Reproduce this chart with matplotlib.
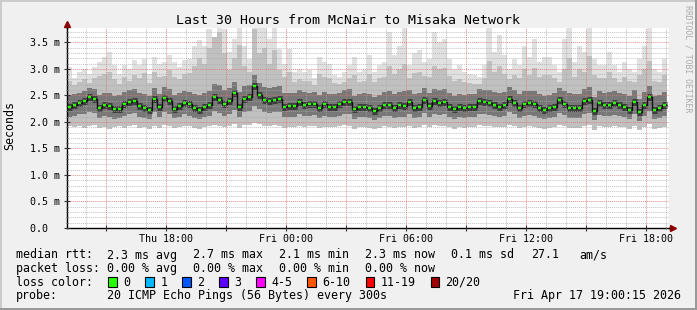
import numpy as np
import pandas as pd
import matplotlib
matplotlib.use("Agg")
import matplotlib.pyplot as plt
import matplotlib.dates as mdates
from matplotlib.ticker import MultipleLocator, FuncFormatter
from matplotlib.patches import Rectangle

W, H = 697, 310
plt.rcParams['font.family'] = ['DejaVu Sans Mono']

# smokeping rtt, 15 min steps from Thu 13:00 to Fri 19:00, values in ms
median = [2.28, 2.32, 2.35, 2.39, 2.47, 2.44, 2.27, 2.32, 2.30, 2.24, 2.25, 2.33, 2.38, 2.40, 2.30, 2.27, 2.22, 2.44, 2.28, 2.45, 2.40, 2.25, 2.30, 2.36,
          2.34, 2.26, 2.22, 2.28, 2.31, 2.47, 2.41, 2.34, 2.39, 2.54, 2.29, 2.43, 2.46, 2.68, 2.51, 2.41, 2.39, 2.42, 2.44, 2.29, 2.30, 2.30, 2.37, 2.31,
          2.33, 2.34, 2.26, 2.33, 2.28, 2.28, 2.33, 2.37, 2.38, 2.24, 2.28, 2.29, 2.26, 2.21, 2.26, 2.32, 2.32, 2.26, 2.31, 2.30, 2.37, 2.26, 2.29, 2.41,
          2.30, 2.39, 2.35, 2.37, 2.29, 2.24, 2.29, 2.27, 2.29, 2.29, 2.39, 2.37, 2.35, 2.32, 2.29, 2.32, 2.43, 2.36, 2.26, 2.33, 2.35, 2.33, 2.27, 2.22,
          2.26, 2.29, 2.41, 2.34, 2.27, 2.27, 2.26, 2.39, 2.41, 2.21, 2.35, 2.31, 2.32, 2.35, 2.32, 2.29, 2.22, 2.37, 2.18, 2.32, 2.46, 2.22, 2.26, 2.32]
hi = [3.04, 2.82, 2.94, 3.00, 2.91, 3.04, 3.13, 3.22, 3.32, 3.07, 2.91, 3.07, 3.00, 3.16, 3.07, 3.19, 2.91, 3.22, 3.10, 3.13, 3.26, 3.13, 3.04, 3.16,
      3.19, 3.44, 3.54, 3.44, 3.76, 3.57, 3.79, 3.76, 3.32, 3.57, 3.82, 3.44, 3.19, 3.82, 3.82, 3.82, 3.57, 3.82, 3.38, 3.10, 3.38, 2.94, 3.00, 2.94,
      2.98, 2.82, 3.22, 3.13, 3.10, 2.88, 2.85, 2.94, 3.07, 3.22, 2.94, 2.98, 3.26, 2.94, 3.07, 3.13, 3.69, 3.26, 3.44, 3.82, 3.07, 3.29, 3.35, 3.13,
      3.19, 3.69, 3.51, 3.57, 3.19, 3.00, 3.07, 2.94, 2.91, 2.88, 2.85, 3.07, 3.82, 3.32, 3.63, 3.26, 3.00, 3.19, 3.07, 3.44, 3.22, 3.57, 3.13, 3.22,
      3.22, 3.07, 2.94, 3.57, 3.82, 3.13, 3.44, 3.32, 3.82, 3.19, 3.07, 3.07, 3.32, 3.07, 2.94, 3.13, 3.00, 2.94, 3.19, 3.44, 3.82, 3.00, 2.94, 3.19]
p90 = [2.78, 2.70, 2.75, 2.80, 2.74, 2.82, 2.86, 2.90, 2.95, 2.80, 2.72, 2.84, 2.78, 2.88, 2.82, 2.92, 2.74, 2.95, 2.85, 2.86, 2.98, 2.84, 2.80, 2.90,
       2.92, 3.05, 3.20, 3.10, 3.40, 3.60, 3.70, 3.30, 2.98, 3.20, 3.45, 3.05, 2.95, 3.75, 3.30, 3.40, 3.10, 3.35, 2.98, 2.85, 2.95, 2.75, 2.80, 2.78,
       2.78, 2.70, 2.90, 2.84, 2.82, 2.74, 2.72, 2.76, 2.82, 2.88, 2.76, 2.78, 2.90, 2.76, 2.82, 2.85, 3.05, 2.90, 3.00, 3.10, 2.82, 2.92, 2.95, 2.86,
       2.85, 3.05, 3.00, 3.02, 2.86, 2.78, 2.80, 2.75, 2.74, 2.72, 2.72, 2.82, 3.15, 2.95, 3.05, 2.90, 2.80, 2.88, 2.82, 3.00, 2.88, 3.02, 2.85, 2.88,
       2.88, 2.82, 2.76, 3.00, 3.20, 2.85, 3.00, 2.95, 3.25, 2.88, 2.82, 2.82, 2.95, 2.82, 2.76, 2.85, 2.78, 2.76, 2.88, 3.00, 3.15, 2.78, 2.76, 2.88]
q3 = [2.50, 2.52, 2.55, 2.58, 2.64, 2.62, 2.50, 2.55, 2.54, 2.48, 2.50, 2.56, 2.60, 2.62, 2.54, 2.52, 2.48, 2.64, 2.52, 2.66, 2.62, 2.50, 2.54, 2.58,
      2.56, 2.52, 2.50, 2.54, 2.58, 2.72, 2.70, 2.60, 2.64, 2.76, 2.56, 2.68, 2.70, 2.88, 2.74, 2.66, 2.64, 2.66, 2.68, 2.54, 2.55, 2.54, 2.60, 2.56,
      2.55, 2.56, 2.50, 2.56, 2.52, 2.52, 2.55, 2.60, 2.62, 2.48, 2.52, 2.54, 2.52, 2.46, 2.50, 2.56, 2.58, 2.52, 2.56, 2.58, 2.60, 2.52, 2.55, 2.64,
      2.54, 2.62, 2.60, 2.62, 2.54, 2.48, 2.52, 2.50, 2.52, 2.52, 2.62, 2.60, 2.60, 2.56, 2.54, 2.56, 2.66, 2.60, 2.52, 2.58, 2.58, 2.58, 2.52, 2.48,
      2.50, 2.54, 2.64, 2.58, 2.54, 2.52, 2.52, 2.62, 2.66, 2.46, 2.58, 2.55, 2.56, 2.58, 2.55, 2.52, 2.48, 2.60, 2.44, 2.56, 2.68, 2.48, 2.50, 2.56]
q1 = [2.10, 2.12, 2.14, 2.15, 2.18, 2.16, 2.08, 2.12, 2.10, 2.06, 2.08, 2.12, 2.14, 2.16, 2.10, 2.08, 2.05, 2.18, 2.10, 2.18, 2.15, 2.08, 2.10, 2.14,
      2.12, 2.08, 2.05, 2.10, 2.12, 2.20, 2.16, 2.12, 2.15, 2.22, 2.10, 2.18, 2.20, 2.30, 2.24, 2.18, 2.16, 2.18, 2.18, 2.10, 2.10, 2.10, 2.14, 2.12,
      2.12, 2.13, 2.08, 2.12, 2.10, 2.10, 2.12, 2.15, 2.15, 2.06, 2.10, 2.10, 2.08, 2.04, 2.08, 2.12, 2.12, 2.08, 2.10, 2.10, 2.14, 2.08, 2.10, 2.16,
      2.10, 2.15, 2.13, 2.14, 2.10, 2.06, 2.10, 2.08, 2.10, 2.10, 2.15, 2.14, 2.13, 2.12, 2.10, 2.12, 2.18, 2.14, 2.08, 2.12, 2.13, 2.12, 2.08, 2.05,
      2.08, 2.10, 2.16, 2.13, 2.08, 2.08, 2.08, 2.15, 2.16, 2.04, 2.13, 2.11, 2.12, 2.13, 2.12, 2.10, 2.05, 2.14, 2.02, 2.12, 2.20, 2.05, 2.08, 2.12]
lo = [1.92, 1.90, 1.93, 1.88, 1.92, 1.95, 1.89, 1.91, 1.87, 1.90, 1.93, 1.89, 1.92, 1.94, 1.88, 1.90, 1.86, 1.93, 1.89, 1.95, 1.92, 1.88, 1.90, 1.93,
      1.92, 1.89, 1.86, 1.90, 1.92, 1.95, 1.93, 1.90, 1.92, 1.96, 1.89, 1.94, 1.95, 1.98, 1.96, 1.93, 1.92, 1.94, 1.93, 1.89, 1.90, 1.91, 1.92, 1.90,
      1.92, 1.93, 1.89, 1.91, 1.90, 1.90, 1.92, 1.94, 1.93, 1.87, 1.90, 1.91, 1.89, 1.86, 1.89, 1.92, 1.91, 1.88, 1.90, 1.91, 1.93, 1.88, 1.90, 1.94,
      1.90, 1.94, 1.92, 1.93, 1.90, 1.87, 1.90, 1.89, 1.90, 1.90, 1.94, 1.93, 1.92, 1.91, 1.90, 1.91, 1.95, 1.92, 1.88, 1.91, 1.92, 1.91, 1.89, 1.86,
      1.89, 1.90, 1.94, 1.92, 1.88, 1.89, 1.88, 1.93, 1.94, 1.85, 1.92, 1.90, 1.91, 1.92, 1.91, 1.90, 1.87, 1.93, 1.85, 1.91, 1.96, 1.87, 1.89, 1.91]

loss_labels = ['0', '1', '2', '3', '4-5', '6-10', '11-19', '20/20']
loss_colors = ['#26ff00', '#00b8ff', '#0059ff', '#5e00ff', '#ff00ff', '#ff5500', '#ff0000', '#a10000']

edges = pd.date_range("2026-04-16 13:00:15", periods=len(median) + 1, freq="15min")
x = mdates.date2num(edges)
step = x[1] - x[0]

fig = plt.figure(figsize=(W / 100, H / 100), dpi=100, facecolor='#f0f0f0')
ax = fig.add_axes([66.5 / W, 1 - 228 / H, 602 / W, 200 / H])
ax.set_facecolor('white')

# smoke
ax.stairs(np.array(hi), x, baseline=np.array(lo), fill=True, color='#e0e0e0', lw=0)
ax.stairs(np.array(p90), x, baseline=np.array(lo), fill=True, color='#c0c0c0', lw=0)
ax.stairs(np.array(q3), x, baseline=np.array(q1), fill=True, color='#787878', lw=0)
ax.hlines(median, x[:-1], x[1:], color='#3c3c3c', lw=5, zorder=1.5)
ax.stairs(np.array(median), x, baseline=None, color='#101010', lw=1.0, zorder=3)
# median dots, coloured by loss (all 0 loss)
ax.hlines(median, x[:-1] + 0.2 * step, x[1:] - 0.2 * step, color=loss_colors[0], lw=1.7, zorder=3.1)

ax.set_xlim(x[0], x[-1] + 6 / (24 * 60))
ax.set_ylim(0, 3.77)

ax.xaxis.set_major_locator(mdates.HourLocator(byhour=range(0, 24, 3)))
ax.xaxis.set_minor_locator(mdates.HourLocator())
def xfmt(v, pos):
    d = mdates.num2date(v)
    return d.strftime('%a %H:%M') if d.hour % 6 == 0 else ''
ax.xaxis.set_major_formatter(FuncFormatter(xfmt))
ax.yaxis.set_major_locator(MultipleLocator(0.5))
ax.yaxis.set_minor_locator(MultipleLocator(0.1))
ax.yaxis.set_major_formatter(FuncFormatter(lambda v, p: '0.0  ' if v == 0 else f'{v:.1f} m'))

ax.set_axisbelow(False)
ax.grid(which='minor', color='#a8a8a8', lw=0.7, ls=(0, (1, 1)), alpha=0.7)
ax.grid(which='major', color='#e07070', lw=0.7, ls=(0, (1, 1)), alpha=0.8)

ax.tick_params(which='major', direction='inout', length=4, width=0.8, labelsize=7.2, color='#333333')
ax.tick_params(which='minor', direction='inout', length=2, width=0.7, color='#555555')
ax.tick_params(axis='x', pad=2)
ax.tick_params(axis='y', pad=3)
for s in ['top', 'right']:
    ax.spines[s].set_visible(False)
for s in ['left', 'bottom']:
    ax.spines[s].set_color('#000000')
    ax.spines[s].set_linewidth(1.0)

# axis arrows
ax.plot([1, 1.004], [0, 0], color='black', lw=1.0, transform=ax.transAxes, clip_on=False)
ax.plot([1.007], [0], marker='>', ms=4, color='#8b0000', transform=ax.transAxes, clip_on=False)
ax.plot([0, 0], [1, 1.015], color='black', lw=1.0, transform=ax.transAxes, clip_on=False)
ax.plot([0], [1.018], marker='^', ms=4, color='#8b0000', transform=ax.transAxes, clip_on=False)

def fx(px):
    return px / W
def fy(py):
    return 1 - py / H

fig.text(fx(348.5), fy(24), 'Last 30 Hours from McNair to Misaka Network', ha='center', va='baseline', fontsize=9.5)
fig.text(fx(10), fy(126), 'Seconds', rotation=90, ha='center', va='center', fontsize=8.4)
fig.text(fx(688), fy(5), 'RRDTOOL / TOBI OETIKER', rotation=270, ha='center', va='top', fontsize=5.9, color='#aaaaaa')

fs = 8.4
rows = [
    (258.5, [(16, 'median rtt:'), (107.3, '2.3 ms avg'), (193.3, '2.7 ms max'), (279.3, '2.1 ms min'),
             (365, '2.3 ms now'), (451, '0.1 ms sd'), (530.7, '27.1'), (579.3, 'am/s')]),
    (272.3, [(16, 'packet loss:'), (107.3, '0.00 % avg'), (193.3, '0.00 % max'), (279.3, '0.00 % min'),
             (365, '0.00 % now')]),
    (285.8, [(16, 'loss color:')]),
    (299.3, [(16, 'probe:'), (107.3, '20 ICMP Echo Pings (56 Bytes) every 300s'),
             (513.3, 'Fri Apr 17 19:00:15 2026')]),
]
for yb, items in rows:
    for xp, t in items:
        fig.text(fx(xp), fy(yb), t, ha='left', va='baseline', fontsize=fs)

cw = 7.02
bx = 108.3
for lab, col in zip(loss_labels, loss_colors):
    fig.patches.append(Rectangle((fx(bx), fy(286.7)), 8.3 / W, 9.3 / H, transform=fig.transFigure,
                                 facecolor=col, edgecolor='black', lw=0.8))
    fig.text(fx(bx + 15), fy(285.8), lab, ha='left', va='baseline', fontsize=fs)
    bx = bx + 15 + len(lab) * cw + 15

# 3d frame
fig.patches.append(Rectangle((0, fy(2)), 1, 2 / H, transform=fig.transFigure, color='#cbcbcb', lw=0))
fig.patches.append(Rectangle((0, 0), 2 / W, 1, transform=fig.transFigure, color='#cbcbcb', lw=0))
fig.patches.append(Rectangle((0, 0), 1, 2 / H, transform=fig.transFigure, color='#999999', lw=0))
fig.patches.append(Rectangle((1 - 2 / W, 0), 2 / W, 1, transform=fig.transFigure, color='#999999', lw=0))

fig.savefig('out.png', dpi=100, facecolor=fig.get_facecolor())
